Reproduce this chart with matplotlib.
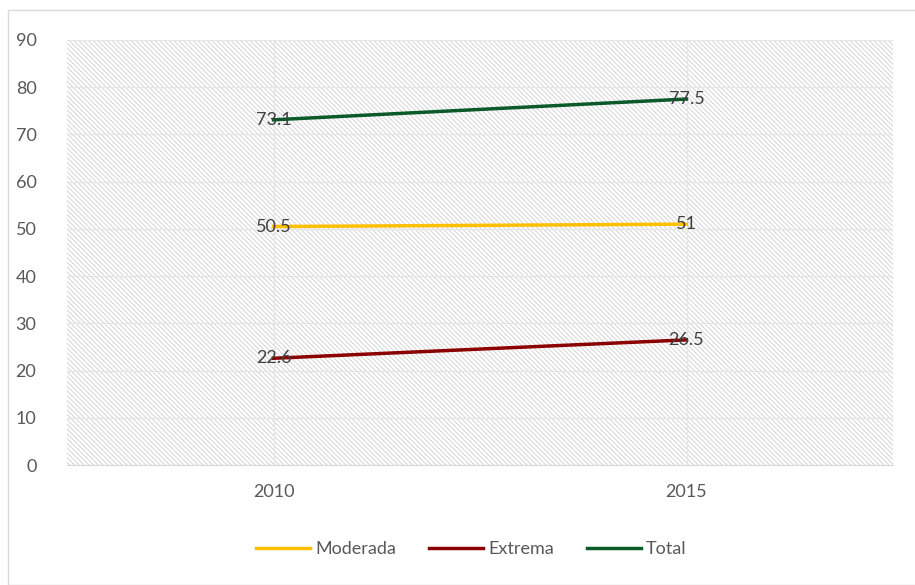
import matplotlib
matplotlib.use('Agg')
import matplotlib.pyplot as plt
from matplotlib.patches import Rectangle

years = ['2010', '2015']
moderada = [50.5, 51]
extrema = [22.6, 26.5]
total = [73.1, 77.5]
labels = ['Moderada', 'Extrema', 'Total']
colors = ['#FFC000', '#8B0000', '#0B5A2A']

plt.rcParams['font.family'] = ['Lato', 'DejaVu Sans']
plt.rcParams['hatch.color'] = '#d4d4d4'
plt.rcParams['hatch.linewidth'] = 0.7

fig = plt.figure(figsize=(9.15, 5.85), dpi=100)
fig.patches.append(Rectangle((8/915, 0), 1, 1 - 10/585, transform=fig.transFigure,
                             fill=False, edgecolor='#d9d9d9', linewidth=1))
ax = fig.add_axes([67/915, 1 - 465/585, 826/915, 425/585])

# fondo rayado
ax.add_patch(Rectangle((0, 0), 1, 1, transform=ax.transAxes, facecolor='white',
                       hatch='\\' * 7, edgecolor='#d4d4d4', linewidth=0, zorder=0))

x = range(len(years))
for vals, lab, col in zip([moderada, extrema, total], labels, colors):
    ax.plot(x, vals, color=col, linewidth=2.5, label=lab, zorder=3)
    for xi, v in zip(x, vals):
        ax.text(xi, v, f'{v:g}', ha='center', va='center', fontsize=13,
                color='#404040', zorder=4)

ax.set_xlim(-0.5, 1.5)
ax.set_ylim(0, 90)
ax.set_yticks(range(0, 91, 10))
ax.set_xticks(list(x))
ax.set_xticklabels(years)
ax.grid(axis='y', color='#e6e6e6', linewidth=1, zorder=1)
ax.grid(axis='x', color='#e6e6e6', linewidth=1, zorder=1)
ax.set_axisbelow(True)
for s in ['top', 'right', 'left']:
    ax.spines[s].set_visible(False)
ax.spines['bottom'].set_color('#d9d9d9')
ax.tick_params(axis='both', length=0, labelsize=13, labelcolor='#595959')
ax.tick_params(axis='y', pad=22)
ax.tick_params(axis='x', pad=14)

fig.legend(loc='center', bbox_to_anchor=(0.515, 1 - 549/585), ncol=3, frameon=False,
           fontsize=13, handlelength=3.0, columnspacing=1.8, handletextpad=0.3,
           labelcolor='#595959')

fig.savefig('out.png', dpi=100)
